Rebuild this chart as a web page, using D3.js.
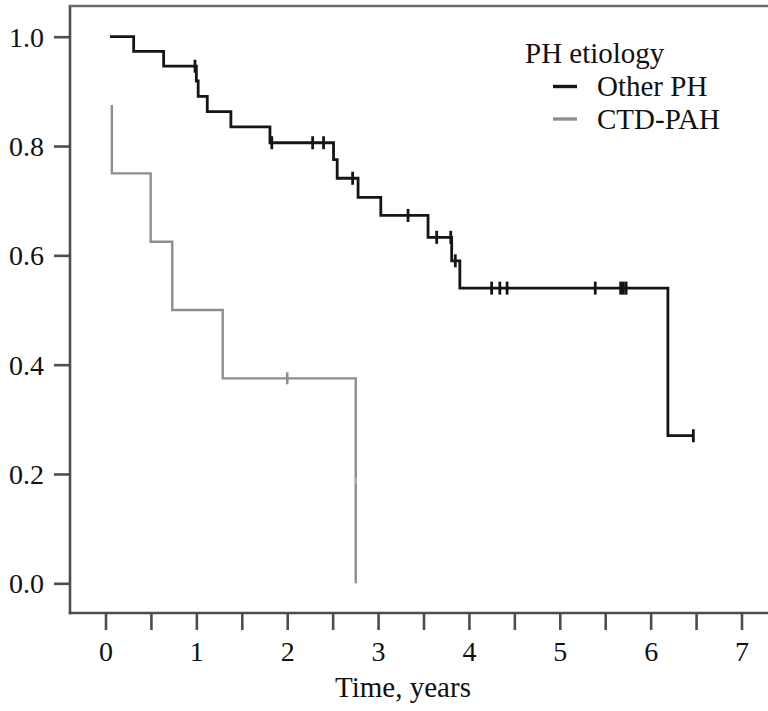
<!DOCTYPE html>
<html lang="en">
<head>
  <meta charset="UTF-8">
  <script src="https://cdn.jsdelivr.net/npm/d3@7/dist/d3.min.js"></script>
  <title>PH etiology survival</title>
  <style>
    body { margin: 0; background: #fff; }
    svg text { font-family: "Liberation Serif", "Times New Roman", serif; fill: #111; }
  </style>
</head>
<body>
  <svg width="768" height="711" id="km"></svg>
  <script>
    // Other PH: [time, survival after the step]
    let otherSteps = [
      [0.05, 1.0], [0.31, 0.973], [0.64, 0.946], [1.0, 0.919], [1.02, 0.891],
      [1.12, 0.863], [1.38, 0.835], [1.81, 0.806], [2.51, 0.775], [2.55, 0.741],
      [2.78, 0.706], [3.03, 0.673], [3.55, 0.633], [3.81, 0.590], [3.90, 0.540],
      [6.19, 0.270], [6.47, 0.270]
    ];
    let otherCensored = [
      [0.985, 0.946], [1.83, 0.806], [2.28, 0.806], [2.40, 0.806], [2.72, 0.741],
      [3.33, 0.673], [3.645, 0.633], [3.80, 0.633], [3.85, 0.590],
      [4.25, 0.540], [4.34, 0.540], [4.42, 0.540], [5.39, 0.540],
      [5.67, 0.540], [5.70, 0.540], [5.73, 0.540], [6.47, 0.270]
    ];

    // CTD-PAH
    let ctdSteps = [
      [0.07, 0.875], [0.07, 0.75], [0.497, 0.625], [0.735, 0.5], [1.29, 0.375],
      [2.754, 0.1875], [2.754, 0.0]
    ];
    let ctdCensored = [[2.0, 0.375]];
    let ctdSmallCensored = [[2.754, 0.1875]];

    let xTicks = d3.range(0, 7.01, 0.5);
    let yTicks = [0, 0.2, 0.4, 0.6, 0.8, 1.0];
    let legendItems = ["Other PH", "CTD-PAH"];
    let legendColors = ["#151515", "#8e8e8e"];

    let svg = d3.select("#km");

    let x = d3.scaleLinear().domain([0, 7]).range([105.5, 741.5]);
    let y = d3.scaleLinear().domain([0, 1]).range([583.3, 36.7]);

    let axisColor = "#4d4d4d";
    let plotLeft = 70, plotBottom = 613, plotTop = 6, plotRight = 768;

    // frame lines
    svg.append("line").attr("x1", plotLeft).attr("x2", plotLeft).attr("y1", plotTop - 1).attr("y2", plotBottom + 1.2)
      .attr("stroke", axisColor).attr("stroke-width", 2.6);
    svg.append("line").attr("x1", plotLeft - 1.2).attr("x2", plotRight).attr("y1", plotBottom).attr("y2", plotBottom)
      .attr("stroke", axisColor).attr("stroke-width", 2.6);
    svg.append("line").attr("x1", plotLeft - 1.2).attr("x2", plotRight).attr("y1", plotTop).attr("y2", plotTop)
      .attr("stroke", "#6a6a6a").attr("stroke-width", 2.4);

    // y axis
    let gy = svg.append("g").attr("transform", `translate(${plotLeft},0)`)
      .call(d3.axisLeft(y).tickValues(yTicks).tickFormat(d3.format(".1f")).tickSize(16).tickPadding(10));
    gy.select(".domain").remove();
    gy.selectAll(".tick line").attr("stroke", axisColor).attr("stroke-width", 2.6);
    gy.selectAll(".tick text").style("font-size", "28px").attr("dy", "0.34em");

    // x axis
    let gx = svg.append("g").attr("transform", `translate(0,${plotBottom})`)
      .call(d3.axisBottom(x).tickValues(xTicks)
        .tickFormat(d => Number.isInteger(d) ? d : "").tickSize(17).tickPadding(11));
    gx.select(".domain").remove();
    gx.selectAll(".tick line").attr("stroke", axisColor).attr("stroke-width", 2.6);
    gx.selectAll(".tick text").style("font-size", "28px");

    svg.append("text")
      .attr("x", 403).attr("y", 697)
      .attr("text-anchor", "middle")
      .style("font-size", "29px")
      .text("Time, years");

    // curves
    let line = d3.line().x(d => x(d[0])).y(d => y(d[1])).curve(d3.curveStepAfter);

    svg.append("path").datum(ctdSteps)
      .attr("d", line).attr("fill", "none")
      .attr("stroke", legendColors[1]).attr("stroke-width", 2.4);

    svg.append("path").datum(otherSteps)
      .attr("d", line).attr("fill", "none")
      .attr("stroke", legendColors[0]).attr("stroke-width", 2.8);

    // censor marks
    function censor(data, color, h, w) {
      svg.selectAll(null).data(data).enter().append("line")
        .attr("x1", d => x(d[0])).attr("x2", d => x(d[0]))
        .attr("y1", d => y(d[1]) - h / 2).attr("y2", d => y(d[1]) + h / 2)
        .attr("stroke", color).attr("stroke-width", w);
    }
    censor(otherCensored, legendColors[0], 13, 2.8);
    censor(ctdCensored, legendColors[1], 12, 2.6);
    censor(ctdSmallCensored, "#b5b5b5", 6, 1.5);

    // legend
    svg.append("text")
      .attr("x", 525).attr("y", 63)
      .style("font-size", "29px")
      .text("PH etiology");

    let lg = svg.selectAll(".leg").data(legendItems).enter().append("g")
      .attr("class", "leg")
      .attr("transform", (d, i) => `translate(0,${i * 32.5})`);
    lg.append("line")
      .attr("x1", 553).attr("x2", 577).attr("y1", 86.5).attr("y2", 86.5)
      .attr("stroke", (d, i) => legendColors[i]).attr("stroke-width", 3.4);
    lg.append("text")
      .attr("x", 597).attr("y", 96)
      .style("font-size", "29px")
      .text(d => d);
  </script>
</body>
</html>
